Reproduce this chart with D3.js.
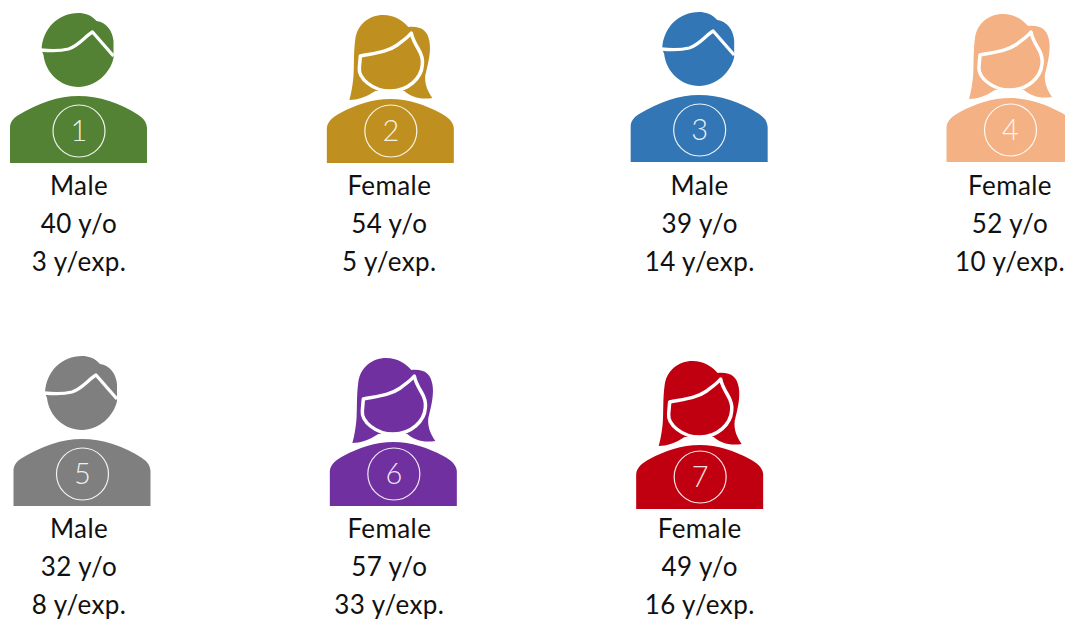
<!DOCTYPE html>
<html>
<head>
<meta charset="utf-8">
<script src="https://cdn.jsdelivr.net/npm/d3@7"></script>
<style>
  html, body { margin: 0; padding: 0; background: #fff; overflow: hidden; }
  text { font-family: Lato, "Open Sans", sans-serif; }
</style>
</head>
<body>
<script>
const ids = [1, 2, 3, 4, 5, 6, 7]
const genders = ['Male', 'Female', 'Male', 'Female', 'Male', 'Female', 'Female']
const ages = [40, 54, 39, 52, 32, 57, 49]
const experience = [3, 5, 14, 10, 8, 33, 16]
const colors = ['#548235', '#bf9020', '#3276b5', '#f4b183', '#7f7f7f', '#7030a0', '#c00010']

const width = 1065
const height = 619
const perRow = 4

const svg = d3.select('body').append('svg')
  .attr('width', width)
  .attr('height', height)

const xScale = d3.scalePoint().domain(d3.range(perRow)).range([79, 1010])
const yScale = d3.scalePoint().domain([0, 1]).range([163, 506])

// icons are not quite on the text columns in the original
const nudgeX = [-0.5, 1, -0.5, 0, 3, 4, 0]
const nudgeY = [0, 0, -1, -1, 0, 0, 3]

const people = ids.map((id, i) => ({
  id: id,
  gender: genders[i],
  age: ages[i],
  exp: experience[i],
  color: colors[i],
  col: i % perRow,
  row: Math.floor(i / perRow),
  i: i
}))

// icon shapes, origin at the bottom middle of the shoulders
const maleBody = 'M-68.5,0 L-68.5,-36 C-68,-43 -63,-46 -60,-48 C-40,-60 -20,-67 0,-67 C20,-67 42,-60 60,-48 C64,-45 68,-42 68.5,-35 L68.5,0 Z'
const maleHead = 'M-37,-113 C-36,-135 -20,-150 0,-150 C6,-150 13,-148 18,-142 C28,-141 34,-132 35,-122 L35,-105 C32,-90 17,-76 0,-76 C-18,-76 -33,-90 -35,-108 Z'
const maleParting = 'M-38,-113 C-28,-112 -18,-112 -10,-114 C0,-117 7,-127 14,-131 L35,-107'
const femaleBody = 'M-63.5,0 L-63.5,-35 C-63,-42 -56,-47 -50,-50 C-35,-58 -18,-64 0,-64 C18,-64 35,-58 50,-50 C56,-47 63,-42 63.5,-35 L63.5,0 Z'
const femaleHair = 'M-7,-148 C-22,-148 -33,-138 -35,-124 C-37,-110 -36,-95 -37,-85 C-38,-76 -39,-70 -41,-63 C-33,-63 -24,-66 -15,-72 L14,-72 C21,-66 30,-63 42,-65 C37,-72 34,-80 35,-88 C38,-100 41,-112 39,-122 C37,-132 32,-137 18,-136 C12,-143 4,-148 -7,-148 Z'
const femaleFace = 'M-30,-107 C-15,-110 -3,-111 7,-118 C12,-122 17,-125 21,-130 C22,-124 25,-119 28,-114 C31,-109 33,-105 32,-98 C31,-85 18,-72 0,-72 C-18,-72 -32,-85 -31,-95 Z'

const icons = svg.selectAll('g.person')
  .data(people)
  .enter()
  .append('g')
  .attr('class', 'person')
  .attr('transform', d => `translate(${xScale(d.col) + nudgeX[d.i]},${yScale(d.row) + nudgeY[d.i]})`)

icons.append('path')
  .attr('d', d => d.gender === 'Male' ? maleBody : femaleBody)
  .attr('fill', d => d.color)

icons.filter(d => d.gender === 'Male').append('path')
  .attr('d', maleHead)
  .attr('fill', d => d.color)

icons.filter(d => d.gender === 'Male').append('path')
  .attr('d', maleParting)
  .attr('fill', 'none')
  .attr('stroke', '#fff')
  .attr('stroke-width', 3.3)
  .attr('stroke-linejoin', 'round')

icons.filter(d => d.gender === 'Female').append('path')
  .attr('d', femaleHair)
  .attr('fill', d => d.color)

icons.filter(d => d.gender === 'Female').append('path')
  .attr('d', femaleFace)
  .attr('fill', d => d.color)
  .attr('stroke', '#fff')
  .attr('stroke-width', 3.5)
  .attr('stroke-linejoin', 'round')

// numbered badge
icons.append('circle')
  .attr('cx', 0.5)
  .attr('cy', -32)
  .attr('r', 26)
  .attr('fill', 'none')
  .attr('stroke', '#fff')
  .attr('stroke-opacity', 0.9)
  .attr('stroke-width', 1.2)

icons.append('text')
  .attr('x', 0.5)
  .attr('y', -22)
  .attr('text-anchor', 'middle')
  .attr('font-size', 29)
  .attr('font-weight', 300)
  .attr('fill', '#fff')
  .attr('fill-opacity', 0.9)
  .text(d => d.id)

// labels under each icon
const labels = svg.selectAll('g.label')
  .data(people)
  .enter()
  .append('g')
  .attr('class', 'label')
  .attr('transform', d => `translate(${xScale(d.col)},${yScale(d.row)})`)
  .attr('text-anchor', 'middle')
  .attr('font-size', 26)
  .attr('letter-spacing', 0.4)
  .attr('fill', '#111')

labels.append('text').attr('y', 32).text(d => d.gender)
labels.append('text').attr('y', 70).text(d => `${d.age} y/o`)
labels.append('text').attr('y', 108).text(d => `${d.exp} y/exp.`)
</script>
</body>
</html>
